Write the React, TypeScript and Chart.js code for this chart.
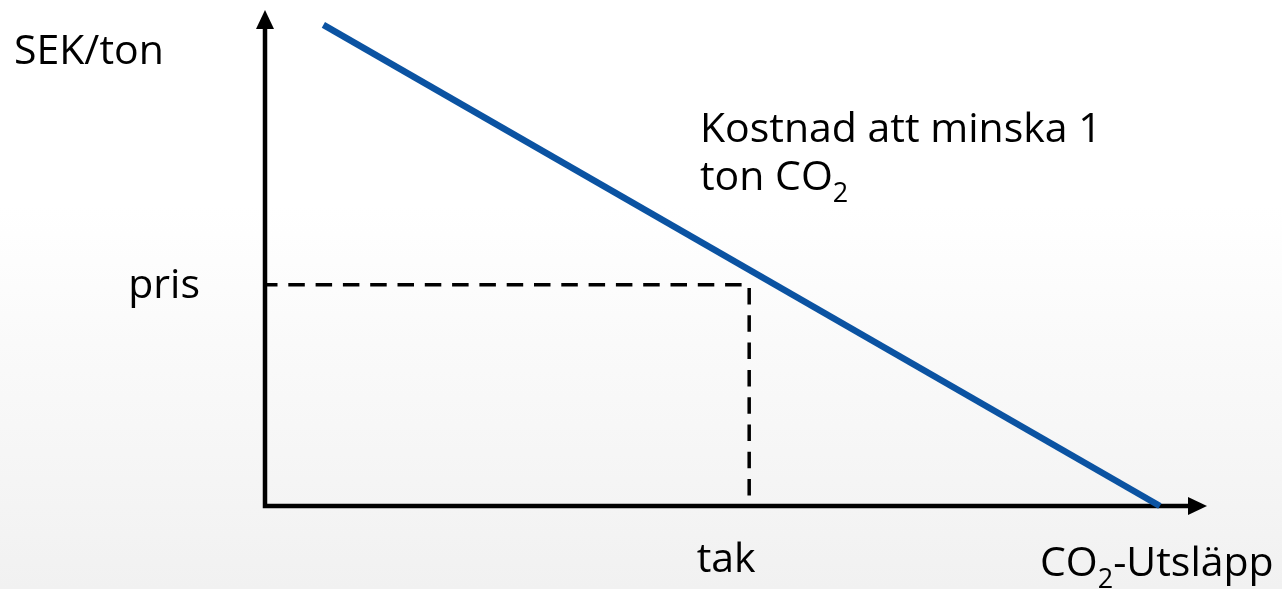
import React, { useEffect, useRef } from "react";
import { Chart, registerables } from "chart.js";

Chart.register(...registerables);

// ---- data ----
const curveX = [6.2, 95.0];
const curveY = [97, 0];
const prisValue = [44.6];
const takValue = [51.4];
const axisMax = [100, 100]; // x max, y max
const yAxisTitle = "SEK/ton";
const prisLabel = "pris";
const takLabel = "tak";
const xAxisTitle = ["CO", "2", "-Utsläpp"];
const curveLabelLine1 = "Kostnad att minska 1";
const curveLabelLine2 = ["ton CO", "2"];

const FONT = "'Open Sans', 'Noto Sans', sans-serif";
const MAIN = 41;
const SUB = 27;

function drawSubText(ctx: CanvasRenderingContext2D, parts: string[], x: number, y: number) {
  // parts alternate: normal, subscript, normal...
  let cx = x;
  parts.forEach((p, i) => {
    const isSub = i % 2 === 1;
    ctx.font = `${isSub ? SUB : MAIN}px ${FONT}`;
    ctx.fillText(p, cx, isSub ? y + 12 : y);
    cx += ctx.measureText(p).width;
  });
}

const diagramPlugin = {
  id: "diagram",
  beforeDraw(chart: any) {
    const { ctx, width, height } = chart;
    ctx.save();
    const g = ctx.createLinearGradient(0, 0, 0, height);
    g.addColorStop(0, "#ffffff");
    g.addColorStop(0.35, "#ffffff");
    g.addColorStop(1, "#f1f1f1");
    ctx.fillStyle = g;
    ctx.fillRect(0, 0, width, height);
    ctx.restore();
  },
  beforeDatasetsDraw(chart: any) {
    const { ctx } = chart;
    const xs = chart.scales.x;
    const ys = chart.scales.y;
    const x0 = xs.getPixelForValue(0);
    const y0 = ys.getPixelForValue(0);
    const xEnd = xs.getPixelForValue(axisMax[0]);
    const yEnd = ys.getPixelForValue(axisMax[1]);
    const head = 19;
    const half = 9;
    ctx.save();
    ctx.strokeStyle = "#000";
    ctx.fillStyle = "#000";
    ctx.lineWidth = 4.5;
    ctx.lineCap = "butt";
    ctx.beginPath();
    ctx.moveTo(x0, y0 + 2.25);
    ctx.lineTo(x0, yEnd + head);
    ctx.moveTo(x0 - 2.25, y0);
    ctx.lineTo(xEnd - head, y0);
    ctx.stroke();
    // arrow heads
    ctx.beginPath();
    ctx.moveTo(x0, yEnd);
    ctx.lineTo(x0 + half, yEnd + head);
    ctx.lineTo(x0 - half, yEnd + head);
    ctx.closePath();
    ctx.fill();
    ctx.beginPath();
    ctx.moveTo(xEnd, y0);
    ctx.lineTo(xEnd - head, y0 - half);
    ctx.lineTo(xEnd - head, y0 + half);
    ctx.closePath();
    ctx.fill();
    ctx.restore();
  },
  afterDatasetsDraw(chart: any) {
    const { ctx } = chart;
    const xs = chart.scales.x;
    const ys = chart.scales.y;
    const x0 = xs.getPixelForValue(0);
    const y0 = ys.getPixelForValue(0);
    const yTop = ys.getPixelForValue(axisMax[1]);
    ctx.save();
    ctx.fillStyle = "#000";
    ctx.textBaseline = "alphabetic";
    ctx.font = `${MAIN}px ${FONT}`;
    // y axis title
    ctx.textAlign = "left";
    ctx.fillText(yAxisTitle, 14, yTop + 54);
    // pris
    ctx.textAlign = "right";
    ctx.fillText(prisLabel, x0 - 65, ys.getPixelForValue(prisValue[0]) + 13);
    // tak
    ctx.textAlign = "center";
    ctx.fillText(takLabel, xs.getPixelForValue(takValue[0]) - 23, y0 + 66);
    // x axis title
    ctx.textAlign = "left";
    drawSubText(ctx, xAxisTitle, 1040, y0 + 70);
    // curve label
    ctx.font = `${MAIN}px ${FONT}`;
    ctx.fillText(curveLabelLine1, 700, 142);
    drawSubText(ctx, curveLabelLine2, 700, 190);
    ctx.restore();
  },
};

export default function App() {
  const ref = useRef<HTMLCanvasElement | null>(null);
  useEffect(() => {
    if (!ref.current) return;
    const chart = new Chart(ref.current, {
      type: "line",
      data: {
        datasets: [
          {
            label: "Kostnad",
            data: curveX.map((x, i) => ({ x, y: curveY[i] })),
            borderColor: "#0b53a2",
            borderWidth: 6.5,
            pointRadius: 0,
            borderCapStyle: "butt",
            clip: false,
            order: 1,
          } as any,
          {
            label: "pris/tak",
            data: [
              { x: 0, y: prisValue[0] },
              { x: takValue[0], y: prisValue[0] },
              { x: takValue[0], y: 0 },
            ],
            borderColor: "#000",
            borderWidth: 3.5,
            borderDash: [16.5, 10.8],
            borderDashOffset: 4,
            pointRadius: 0,
            borderJoinStyle: "miter",
            clip: false,
            order: 2,
          } as any,
        ],
      },
      options: {
        responsive: false,
        animation: false,
        devicePixelRatio: 1,
        layout: { padding: { left: 265, top: 10, right: 75, bottom: 83 } },
        scales: {
          x: { type: "linear", min: 0, max: axisMax[0], display: false },
          y: { type: "linear", min: 0, max: axisMax[1], display: false },
        },
        plugins: {
          legend: { display: false },
          tooltip: { enabled: false },
          title: { display: false },
        },
        events: [],
      },
      plugins: [diagramPlugin],
    });
    return () => chart.destroy();
  }, []);
  return (
    <div style={{ position: "fixed", left: 0, top: 0, width: 1282, height: 589 }}>
      <canvas ref={ref} width={1282} height={589} style={{ display: "block" }} />
    </div>
  );
}
